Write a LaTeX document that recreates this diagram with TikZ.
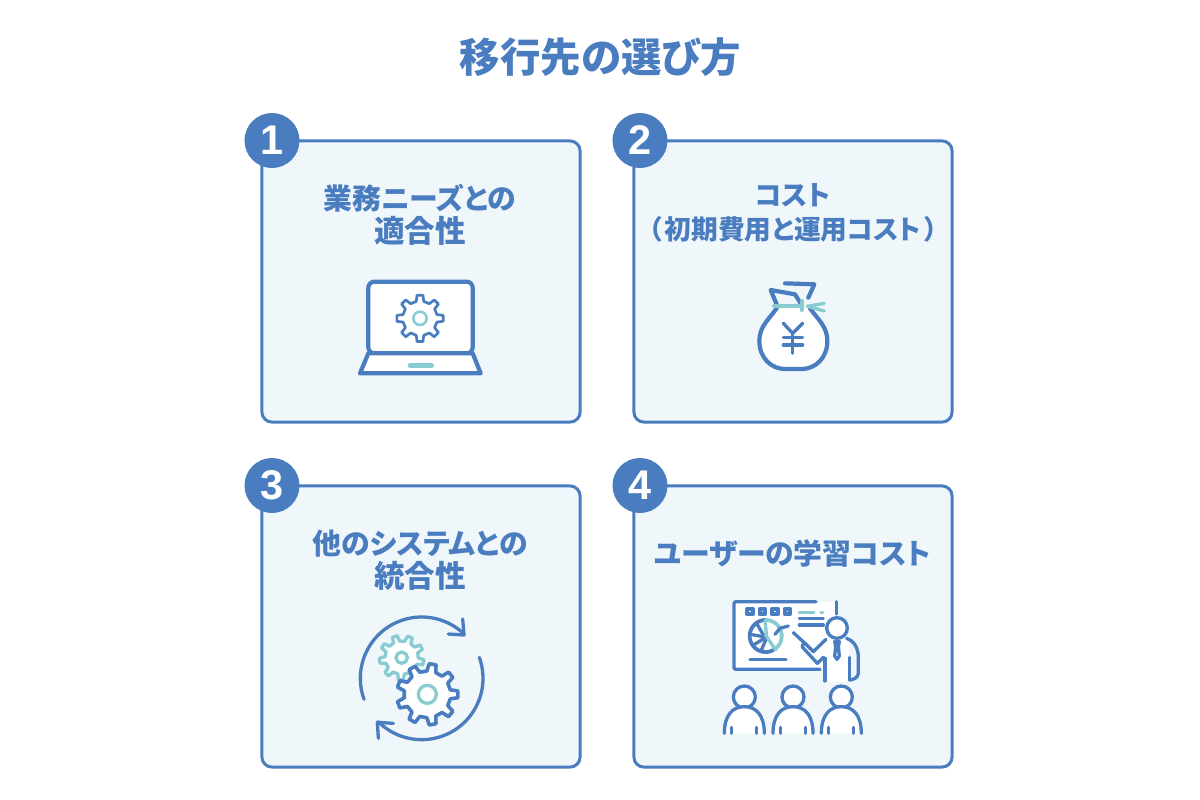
\documentclass[tikz,border=0pt]{standalone}
\usepackage{fontspec}
\usepackage{xcolor}
\usepackage{tikz}
\usetikzlibrary{arrows.meta,positioning,shapes,calc}
\setmainfont{Liberation Sans}
\newfontfamily\cjk[RawFeature={+palt}]{Noto Sans CJK JP}
\definecolor{mainblue}{HTML}{4A7DBF}
\definecolor{mainteal}{HTML}{88CBD0}
\definecolor{cardfill}{HTML}{EFF7FA}

\newcommand{\drawgear}[7]{%
\draw[#1] ({#2+#6*cos(#7+0.72*360/#4)},{#3+#6*sin(#7+0.72*360/#4)})
\foreach \i in {1,...,#4}{
-- ({#2+#6*cos(#7+(\i-0.28)*360/#4)},{#3+#6*sin(#7+(\i-0.28)*360/#4)})
-- ({#2+#5*cos(#7+(\i-0.16)*360/#4)},{#3+#5*sin(#7+(\i-0.16)*360/#4)})
-- ({#2+#5*cos(#7+(\i+0.16)*360/#4)},{#3+#5*sin(#7+(\i+0.16)*360/#4)})
-- ({#2+#6*cos(#7+(\i+0.28)*360/#4)},{#3+#6*sin(#7+(\i+0.28)*360/#4)})
} -- cycle;}

\begin{document}
\begin{tikzpicture}[x=0.01cm,y=-0.01cm,
card/.style={rectangle, draw=mainblue, fill=cardfill, line width=0.03cm, rounded corners=0.1cm, minimum width=3.18cm, minimum height=2.81cm},
badge/.style={circle, fill=mainblue, text=white, minimum size=0.55cm, inner sep=0pt, font=\fontsize{11.8}{11.8}\selectfont\bfseries},
heading/.style={font=\fontsize{11.5}{13}\selectfont\cjk\bfseries, text=mainblue, inner sep=0pt},
label/.style={font=\fontsize{8.2}{9.5}\selectfont\cjk\bfseries, text=mainblue, align=center, inner sep=0pt},
iconline/.style={draw=mainblue, line width=0.042cm, line cap=round, line join=round},
thinline/.style={draw=mainblue, line width=0.033cm, line cap=round, line join=round},
tealline/.style={draw=mainteal, line width=0.033cm, line cap=round, line join=round}
]
\useasboundingbox (0,0) rectangle (1200,800);

% Title
\node[heading] (title) at (600.5,57) {移行先の選び方};

% Cards
\node[card] (card1) at (421,281.5) {};
\node[card] (card2) at (793,281.5) {};
\node[card] (card3) at (421,626.5) {};
\node[card] (card4) at (793,626.5) {};

% Number badges
\node[badge] (num1) at (272,140.5) {1};
\node[badge] (num2) at (640,140.5) {2};
\node[badge] (num3) at (272,485.5) {3};
\node[badge] (num4) at (640,485.5) {4};

% Card labels
\node[label] (text1) at (420,215) {業務ニーズとの\\{\fontsize{8.7}{9.5}\selectfont 適合性}};
\node[label] (text2) at (793,213) {{\fontsize{7.8}{9.5}\selectfont コスト}\\{\fontsize{7.6}{9.5}\selectfont （\hspace{0.03cm}初期費用と運用コスト\hspace{0.03cm}）}};
\node[label] (text3) at (420,560) {他のシステムとの\\{\fontsize{8.7}{9.5}\selectfont 統合性}};
\node[label] (text4) at (792.5,553) {ユーザーの学習コスト};

% Laptop
\begin{scope}[shift={(340,265)},scale=1/3]
\draw[iconline, fill=white, rounded corners=0.06cm] (85,265) -- (85,50) -- (398,50) -- (398,265) -- cycle;
\draw[iconline, fill=white] (85,265) -- (398,265) -- (422,325) -- (60,325) -- cycle;
\draw[tealline, line width=0.045cm] (210,302) -- (275,302);
\drawgear{thinline, line width=0.027cm}{240}{160}{8}{70}{52}{0}
\draw[tealline, line width=0.025cm] (240,160) circle [radius=20];
\end{scope}

% Money bag
\begin{scope}[shift={(730,265)},scale=1/3]
\draw[iconline, fill=white] (140,130) .. controls (115,165) and (88,185) .. (88,228) .. controls (88,280) and (125,312) .. (165,312) -- (215,312) .. controls (255,312) and (292,280) .. (292,228) .. controls (292,185) and (265,165) .. (240,130);
\draw[iconline] (140,118) -- (122,75) -- (195,88) -- (215,120);
\draw[iconline] (165,55) -- (253,58) -- (235,98);
\draw[tealline, line width=0.04cm] (132,122) -- (215,122);
\draw[tealline, line width=0.04cm] (215,108) -- (215,135);
\draw[tealline] (232,124) -- (283,115);
\draw[tealline] (232,124) -- (283,138);
\draw[thinline] (160,175) -- (188,205) -- (218,175);
\draw[thinline] (188,205) -- (188,265);
\draw[thinline] (160,218) -- (218,218);
\draw[thinline] (160,240) -- (218,240);
\end{scope}

% Rotating gears
\begin{scope}[shift={(340,605)},scale=1/3]
\draw[thinline] plot[domain=160:314,samples=50] ({245+184*cos(\x)},{220+184*sin(\x)});
\draw[thinline] (368,42) -- (372,90) -- (325,87);
\draw[thinline] plot[domain=-20:135,samples=50] ({245+184*cos(\x)},{220+184*sin(\x)});
\draw[thinline] (160,355) -- (112,352) -- (115,400);
\drawgear{tealline, fill=white}{185}{158}{9}{67}{50}{12}
\draw[tealline] (185,158) circle [radius=17];
\drawgear{thinline, line width=0.036cm, fill=white}{262}{268}{9}{92}{70}{0}
\draw[tealline] (262,268) circle [radius=27];
\end{scope}

% Presenter and listeners
\begin{scope}[shift={(710,590)},scale=1/3]
\fill[white] (72,35) rectangle (380,238);
\fill[white] (345,150) rectangle (418,275);
\draw[thinline, rounded corners=0.02cm] (318,35) -- (72,35) -- (72,238) -- (330,238);
\draw[thinline] (380,35) -- (380,72);
\foreach \sx in {120,157,195,232}
  \draw[thinline, line width=0.042cm] (\sx-8,57) rectangle (\sx+8,73);
\draw[tealline] (268,67) -- (312,67);
\draw[tealline] (333,67) -- (338,67);
\draw[thinline] (268,85) -- (340,85);
\draw[thinline] (268,105) -- (340,105);
% Pie chart
\draw[thinline, line width=0.038cm] plot[domain=60:270,samples=40] ({167+48*cos(\x)},{138+48*sin(\x)});
\draw[tealline, line width=0.038cm] plot[domain=270:415,samples=40] ({167+48*cos(\x)},{138+48*sin(\x)});
\draw[tealline] (165,92) -- (170,140) -- (197,180);
\draw[thinline] (140,100) -- (160,135);
\draw[thinline] (120,133) -- (160,140);
\draw[thinline] (130,165) -- (163,145);
\draw[thinline] (153,183) -- (167,150);
\draw[thinline] (195,133) -- (210,115) -- (235,108);
\draw[thinline] (120,208) -- (228,208);
% Presenter
\draw[thinline] (250,128) -- (285,160) -- (310,185) -- (348,148);
\draw[thinline] (285,160) .. controls (275,165) and (275,170) .. (278,172) -- (322,220) -- (340,202);
\draw[thinline] (345,205) -- (345,273);
\draw[thinline] (410,145) .. controls (430,152) and (440,165) .. (445,195) -- (445,250) .. controls (445,262) and (430,270) .. (418,270);
\draw[thinline] (418,202) -- (418,270);
\draw[thinline, fill=white] (381,114) circle [radius=31];
\draw[thinline] (374,155) -- (388,155) -- (385,170) -- (388,198) -- (381,208) -- (374,198) -- (377,170) -- cycle;
% Listeners
\foreach \px in {103,249,394}{
  \draw[thinline, fill=white] (\px,321) circle [radius=33];
  \draw[thinline, fill=white] (\px-60,430) .. controls (\px-60,375) and (\px-35,350) .. (\px,350) .. controls (\px+35,350) and (\px+60,375) .. (\px+60,430);
  \draw[thinline] (\px-38,412) -- (\px-38,430);
  \draw[thinline] (\px+37,412) -- (\px+37,430);
}
\end{scope}

\end{tikzpicture}
\end{document}
